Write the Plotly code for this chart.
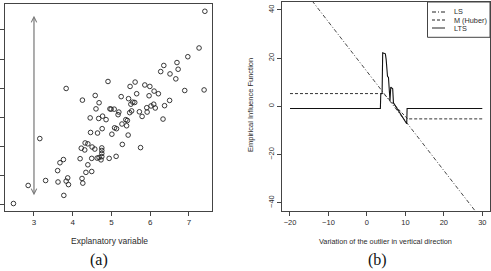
import plotly.graph_objects as go

# ---------------- data: panel (a) ----------------
expl_x = [7.41, 7.26, 6.97, 6.35, 6.69, 6.27, 6.72, 6.51, 6.66, 6.89, 7.39, 3.83, 4.91, 5.61, 5.48,
          5.86, 5.99, 6.10, 6.21, 5.97, 5.65, 5.25, 5.44, 4.25, 4.58, 4.68, 5.55, 5.60, 5.50, 6.50,
          6.37, 6.09, 6.02, 5.91, 6.13, 4.60, 4.96, 4.99, 5.07, 5.19, 5.47, 5.52, 5.72, 5.92, 5.17,
          5.79, 4.45, 4.67, 4.77, 4.86, 6.33, 5.37, 5.41, 5.27, 5.39, 4.76, 5.08, 5.13, 4.46, 4.64,
          5.01, 5.43, 3.15, 4.32, 4.39, 4.22, 4.31, 4.50, 4.57, 4.75, 4.75, 4.75, 4.75, 5.28, 5.12,
          5.75, 4.19, 4.49, 4.63, 4.68, 4.73, 4.94, 4.39, 3.67, 3.76, 3.61, 4.49, 4.34, 3.30, 3.62,
          3.87, 3.83, 3.89, 4.24, 4.26, 2.85, 3.77, 2.47]
resp_y = [6.64, 5.38, 5.08, 4.78, 4.88, 4.57, 4.65, 4.49, 4.32, 3.92, 3.94, 3.99, 4.23, 4.21, 4.06,
          4.11, 4.06, 3.90, 3.81, 3.74, 3.81, 3.71, 3.64, 3.59, 3.75, 3.50, 3.52, 3.51, 3.45, 3.58,
          3.40, 3.45, 3.39, 3.33, 3.32, 3.29, 3.29, 3.28, 3.28, 3.18, 3.16, 3.22, 3.19, 3.18, 3.09,
          3.03, 2.98, 2.96, 3.04, 2.92, 2.94, 2.92, 2.89, 2.77, 2.71, 2.61, 2.64, 2.61, 2.48, 2.46,
          2.42, 2.39, 2.27, 2.12, 2.09, 1.94, 1.88, 1.98, 1.91, 1.95, 1.86, 1.76, 1.65, 2.07, 1.66,
          1.96, 1.58, 1.59, 1.60, 1.62, 1.54, 1.59, 1.37, 1.44, 1.55, 1.17, 1.14, 1.11, 0.83, 0.78,
          0.92, 0.81, 0.69, 0.90, 0.74, 0.66, 0.32, 0.04]
arrow_x = 3.0
arrow_y = [0.27, 6.49]
a_xticks = [3, 4, 5, 6, 7]
a_yticks = [0, 1, 2, 3, 4, 5, 6]

# ---------------- data: panel (b) ----------------
ls_x = [-20, 30]
ls_y = [55.6, -47.2]
m_x = [-20, 4.3, 10.6, 30]
m_y = [5.3, 5.3, -5.2, -5.2]
lts_x = [-20, 3.5, 3.6, 3.95, 4.1, 4.8, 5.0, 5.35, 5.6, 5.8, 6.0, 6.2, 6.7, 6.9, 7.5, 8.5, 9.5, 10.35, 10.45, 30]
lts_y = [-0.9, -0.9, 5.0, 5.5, 22.2, 21.8, 19.5, 12.5, 12.0, 4.5, 2.3, 8.0, 7.3, 1.5, 0.0, -2.8, -4.8, -7.2, -0.9, -0.9]
b_xticks = [-20, -10, 0, 10, 20, 30]
b_yticks = [-40, -20, 0, 20, 40]
legend_names = ["LS", "M (Huber)", "LTS"]

W, H = 491, 271
def px(v):
    return v / W
def py(v):
    return (H - v) / H

INK = "#222222"
FRAME = "#444444"
TXT = "#2b2b2b"
SANS = "Liberation Sans, Arial, sans-serif"
SERIF = "Liberation Serif, Times New Roman, serif"

fig = go.Figure()

fig.add_trace(go.Scatter(x=expl_x, y=resp_y, mode="markers", xaxis="x", yaxis="y",
                         marker=dict(symbol="circle-open", size=4.6, color=INK, line=dict(width=0.9, color=INK)),
                         showlegend=False))

fig.add_trace(go.Scatter(x=ls_x, y=ls_y, mode="lines", xaxis="x2", yaxis="y2", name=legend_names[0],
                         line=dict(color="#333333", width=0.9, dash="4px,2px,1px,2px"), showlegend=False))
fig.add_trace(go.Scatter(x=m_x, y=m_y, mode="lines", xaxis="x2", yaxis="y2", name=legend_names[1],
                         line=dict(color="#333333", width=1, dash="3px,2px"), showlegend=False))
fig.add_trace(go.Scatter(x=lts_x, y=lts_y, mode="lines", xaxis="x2", yaxis="y2", name=legend_names[2],
                         line=dict(color="#111111", width=1.1), showlegend=False))

axis_common = dict(showgrid=False, zeroline=False, showline=True, mirror=True, linecolor=FRAME,
                   linewidth=1, ticks="outside", ticklen=4, tickcolor=FRAME, tickwidth=1)

fig.update_layout(
    width=W, height=H, margin=dict(l=0, r=0, t=0, b=0),
    paper_bgcolor="white", plot_bgcolor="white", showlegend=False,
    xaxis=dict(domain=[px(5), px(212)], range=[2.252, 7.594], anchor="y", tickvals=a_xticks,
               tickfont=dict(family=SANS, size=8, color=TXT), **axis_common),
    yaxis=dict(domain=[py(210.7), py(4)], range=[-0.206, 6.89], anchor="x", tickvals=a_yticks,
               showticklabels=False, **axis_common),
    xaxis2=dict(domain=[px(282.3), px(490)], range=[-22, 32], anchor="y2", tickvals=b_xticks,
                tickfont=dict(family=SANS, size=7.5, color=TXT), **axis_common),
    yaxis2=dict(domain=[py(210.7), py(2)], range=[-43.3, 43.3], anchor="x2", tickvals=b_yticks,
                tickangle=-90, tickfont=dict(family=SANS, size=7.5, color=TXT), **axis_common),
)

# double-headed arrow in panel (a)
fig.add_annotation(x=arrow_x, y=arrow_y[1], ax=arrow_x, ay=arrow_y[0], xref="x", yref="y",
                   axref="x", ayref="y", text="", showarrow=True, arrowhead=5, startarrowhead=5,
                   arrowside="end+start", arrowsize=0.9, startarrowsize=0.9, arrowwidth=1.2,
                   arrowcolor="#777777", standoff=0, startstandoff=0)

# axis titles and panel labels
fig.add_annotation(x=px(109), y=py(241), xref="paper", yref="paper", text="Explanatory variable",
                   showarrow=False, font=dict(family=SANS, size=8.5, color=TXT),
                   xanchor="center", yanchor="middle")
fig.add_annotation(x=px(385.7), y=py(241.5), xref="paper", yref="paper",
                   text="Variation of the outlier in vertical direction",
                   showarrow=False, font=dict(family=SANS, size=7.3, color=TXT),
                   xanchor="center", yanchor="middle")
fig.add_annotation(x=px(251), y=py(105), xref="paper", yref="paper", text="Empirical Influence Function",
                   showarrow=False, textangle=-90, font=dict(family=SANS, size=7.5, color=TXT),
                   xanchor="center", yanchor="middle")
fig.add_annotation(x=px(99.3), y=py(260), xref="paper", yref="paper", text="(a)", showarrow=False,
                   font=dict(family=SERIF, size=16, color="#111111"), xanchor="center", yanchor="middle")
fig.add_annotation(x=px(377.3), y=py(260), xref="paper", yref="paper", text="(b)", showarrow=False,
                   font=dict(family=SERIF, size=16, color="#111111"), xanchor="center", yanchor="middle")

# manual legend for panel (b)
fig.add_shape(type="rect", xref="paper", yref="paper", x0=px(427.5), x1=px(490), y0=py(37.3), y1=py(2),
              line=dict(color=FRAME, width=1), fillcolor="white", layer="above")
leg_dash = ["4px,2px,1px,2px", "3px,2px", "solid"]
leg_y = [12, 20, 28]
for name, dsh, yy in zip(legend_names, leg_dash, leg_y):
    fig.add_shape(type="line", xref="paper", yref="paper", x0=px(432), x1=px(445), y0=py(yy), y1=py(yy),
                  line=dict(color="#222222", width=1, dash=dsh), layer="above")
    fig.add_annotation(x=px(452), y=py(yy), xref="paper", yref="paper", text=name, showarrow=False,
                       font=dict(family=SANS, size=7.3, color=TXT), xanchor="left", yanchor="middle")

fig.write_html("out.html")
